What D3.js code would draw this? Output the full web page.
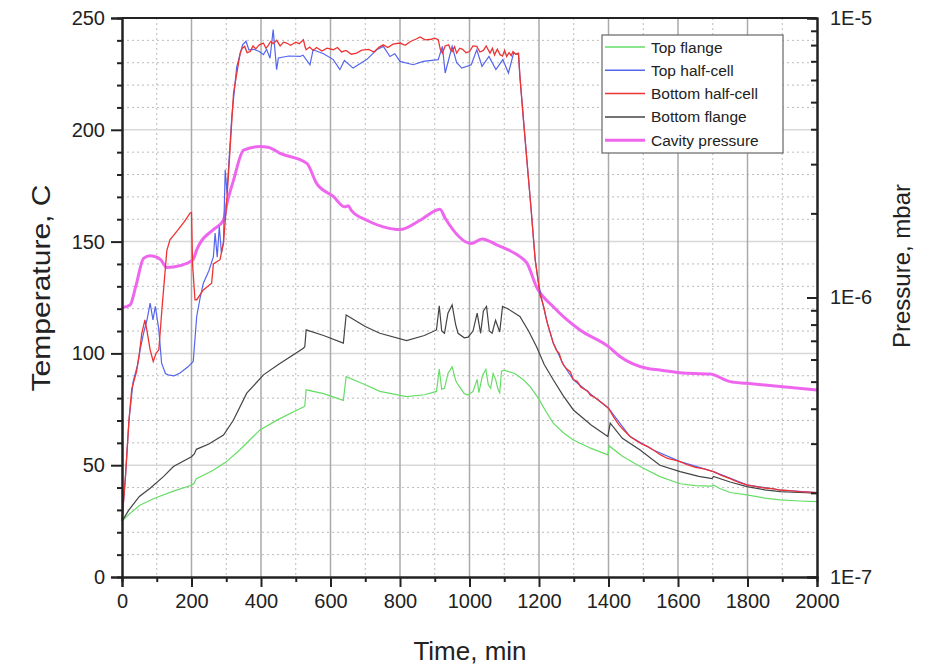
<!DOCTYPE html>
<html>
<head>
<meta charset="utf-8">
<script src="https://cdn.jsdelivr.net/npm/d3@7"></script>
<style>
  body { margin: 0; background: #fff; }
  text { font-family: "Liberation Sans", Arial, sans-serif; fill: #222; }
</style>
</head>
<body>
<div id="chart"></div>
<script>
var svgWidth = 940, svgHeight = 668;

// [time (min), temperature (C)]
var topFlange = [[0,25],[20,28],[50,32],[90,35],[150,38.5],[200,41],[208,42],[214,44],[260,47.5],[300,51.5],[340,57],[397,65.8],[450,70.5],[522,76],[526,76.5],[530,83.7],[580,82],[637,79],[645,89.6],[700,86],[742,83],[819,80.7],[870,81.5],[905,83],[913,93],[920,84],[928,84.4],[938,91],[950,94],[960,88],[967,86],[985,82],[996,81.4],[1010,83],[1022,88.4],[1027,82.4],[1037,90],[1047,92.9],[1054,86],[1061,84.4],[1068,91],[1075,88.4],[1082,84],[1087,82.4],[1092,92],[1100,92.5],[1130,91],[1155,88.2],[1175,85],[1198,80],[1220,74],[1241,68.8],[1270,64.5],[1299,61.3],[1350,57.5],[1398,54.6],[1402,58.6],[1440,54],[1491,49.4],[1548,44.9],[1606,41.7],[1650,40.9],[1698,40.6],[1702,41.2],[1720,39.6],[1750,37.8],[1798,36.7],[1850,35.3],[1894,34.5],[1950,34],[2000,33.7]];

var bottomFlange = [[0,25],[20,30],[50,36],[81,39.7],[120,45],[148,49.4],[200,53.8],[208,55],[214,57.1],[250,59.5],[292,63.5],[320,70],[359,82.2],[407,90.4],[450,95],[522,102.3],[526,103],[530,110.5],[580,108],[637,104.6],[645,117.2],[700,112],[742,109],[819,105.7],[870,108],[905,110.5],[913,121.3],[920,110],[928,109],[938,118],[950,121.7],[960,113],[967,109],[985,107],[996,107.3],[1010,110],[1022,118],[1032,109],[1040,119],[1049,121],[1057,110],[1065,109],[1075,114.8],[1087,109.6],[1095,121],[1110,120],[1145,116.5],[1170,110],[1193,103],[1215,95],[1241,88.2],[1270,81],[1299,74.7],[1350,68],[1398,62.8],[1405,68.8],[1440,62],[1491,56.8],[1548,50],[1606,47.1],[1660,45],[1698,44],[1702,45],[1750,42.5],[1798,40.4],[1850,39],[1894,38.2],[1950,37.8],[2000,37.5]];

var topHalfCell = [[0,25],[10,45],[20,70],[32,87.4],[45,95],[52,101.6],[62,109],[72,115],[81,122.5],[89,115],[96,121],[106,110.5],[114,95.6],[125,91],[133,90.4],[150,90],[167,91.2],[190,94],[205,96.4],[215,116.5],[225,125],[234,131.4],[250,137],[263,143.3],[268,153.8],[274,143],[280,156.8],[286,145],[292,150],[297,182.1],[302,171.8],[316,206],[330,228],[347,238],[357,239.6],[365,235.8],[380,236],[395,235],[407,233.6],[416,236],[426,232],[435,244.8],[445,226.9],[450,232.1],[480,233],[512,232.8],[521,233.4],[541,229.1],[550,235.8],[580,234],[608,231.4],[627,226.9],[640,231],[665,227.6],[704,231.4],[733,235.8],[752,237.3],[771,232.8],[785,234],[800,230.6],[838,229.1],[867,230.6],[910,231.4],[922,237.3],[930,225.4],[950,237.3],[963,230],[978,227.6],[1005,229.1],[1021,235.8],[1036,228.4],[1056,232.8],[1076,226.9],[1096,231.4],[1112,225.4],[1127,234.3],[1141,233.6],[1145,224],[1155,205],[1165,186.6],[1177,165],[1189,141.9],[1198,132],[1208,124],[1225,113],[1241,104.6],[1270,95],[1299,88.2],[1357,80.7],[1400,75.5],[1462,62.8],[1529,56.8],[1606,51.6],[1702,47.1],[1798,41.2],[1894,38.9],[2000,37.7]];

var bottomHalfCell = [[0,25],[10,45],[20,70],[28,84],[42,92],[50,100],[57,109],[66,115],[72,110],[81,101.6],[90,96.4],[98,100],[106,101.6],[115,120],[129,146],[138,150.8],[160,155],[180,159],[196,162.8],[200,163],[203,140],[210,124],[215,124],[234,128.4],[258,131.4],[263,140],[282,141.9],[292,149.3],[300,165],[306,179],[321,216.5],[340,234.3],[346,236.5],[353,237.3],[360,234.5],[369,235],[377,237.5],[385,236.2],[395,238],[407,238.8],[414,236.5],[420,237.5],[428,239.5],[435,238.5],[445,240],[455,237.5],[465,239.2],[474,238.8],[485,237.8],[500,239.2],[510,238.5],[522,240.3],[527,237],[530,235.8],[540,237],[550,235.5],[560,236.8],[575,235.2],[590,236.5],[608,235.8],[620,236.8],[632,234.8],[645,235.5],[660,233.8],[675,234.3],[690,235.6],[710,236],[725,234.8],[740,237],[752,238],[765,236.8],[780,238.3],[800,238.8],[815,237.8],[830,239.5],[845,240.5],[858,241.5],[872,240.2],[890,240.5],[900,241],[910,240.3],[916,236],[922,234.3],[930,237.5],[940,238],[945,236],[950,235],[957,237.2],[963,234.3],[972,236.5],[980,236],[990,234.5],[1000,235],[1010,237.5],[1021,237.3],[1030,234.8],[1040,235.5],[1048,237.5],[1059,234.3],[1066,236.5],[1072,233.5],[1080,236],[1088,233.6],[1095,233],[1101,235.5],[1107,232.8],[1114,234.5],[1120,233.2],[1125,235],[1133,233.8],[1141,234.3],[1145,224],[1155,205],[1165,186.6],[1177,165],[1189,141.9],[1198,132],[1203,126],[1208,124],[1215,120],[1220,116],[1225,113],[1232,109.5],[1241,104.6],[1250,101.5],[1258,100],[1265,96.5],[1270,95],[1280,93],[1290,91.8],[1299,88.2],[1310,87.5],[1320,85],[1330,84],[1340,83.2],[1348,81.2],[1357,80.7],[1368,79.5],[1380,78],[1390,76.8],[1400,75.5],[1415,71.5],[1430,68],[1445,65.5],[1462,62.8],[1478,61.2],[1495,59.5],[1512,58.4],[1529,56.8],[1550,54.6],[1570,53],[1588,52.4],[1606,51.6],[1628,50.1],[1650,49],[1675,48.4],[1702,47.1],[1725,45.4],[1750,44],[1775,42.3],[1798,41.2],[1825,40.4],[1850,39.8],[1872,39.5],[1894,38.9],[1920,38.6],[1950,38.2],[1975,38],[2000,37.7]];

// [time (min), pressure (mbar)]
var cavityPressure = [[0,9.2e-7],[23,9.4e-7],[40,1.1e-6],[62,1.38e-6],[81,1.41e-6],[110,1.37e-6],[129,1.28e-6],[167,1.30e-6],[205,1.37e-6],[215,1.48e-6],[224,1.56e-6],[263,1.75e-6],[292,1.89e-6],[302,2.17e-6],[321,2.63e-6],[350,3.37e-6],[397,3.47e-6],[420,3.45e-6],[455,3.28e-6],[532,3.02e-6],[560,2.56e-6],[608,2.30e-6],[641,2.11e-6],[651,2.13e-6],[660,2.05e-6],[704,1.89e-6],[752,1.79e-6],[800,1.75e-6],[858,1.89e-6],[915,2.07e-6],[930,1.92e-6],[1005,1.56e-6],[1036,1.62e-6],[1080,1.54e-6],[1112,1.48e-6],[1145,1.40e-6],[1165,1.33e-6],[1193,1.09e-6],[1241,9.27e-7],[1318,7.65e-7],[1400,6.67e-7],[1434,6.14e-7],[1510,5.58e-7],[1548,5.5e-7],[1606,5.38e-7],[1693,5.32e-7],[1750,5.0e-7],[1798,4.93e-7],[2000,4.67e-7]];

var seriesNames = ["Top flange","Top half-cell","Bottom half-cell","Bottom flange","Cavity pressure"];
var seriesColors = ["#66dd66","#5566ee","#ee3333","#444444","#ee66ee"];

var timeTicks = [0,200,400,600,800,1000,1200,1400,1600,1800,2000];
var tempTicks = [0,50,100,150,200,250];
var pressTicks = [1e-7,1e-6,1e-5];

var plotLeft = 122, plotRight = 817, plotTop = 18, plotBottom = 577;

var svg = d3.select("#chart").append("svg")
  .attr("width", svgWidth)
  .attr("height", svgHeight);

var x = d3.scaleLinear().domain([0,2000]).range([plotLeft,plotRight]);
var y = d3.scaleLinear().domain([0,250]).range([plotBottom,plotTop]);
var yp = d3.scaleLog().domain([1e-7,1e-5]).range([plotBottom,plotTop]);

// grid
var grid = svg.append("g");
grid.selectAll(".vminor").data(d3.range(100,2000,200)).enter().append("line")
  .attr("x1",d=>x(d)).attr("x2",d=>x(d)).attr("y1",plotTop).attr("y2",plotBottom)
  .attr("stroke","#bbb").attr("stroke-dasharray","2,3");
grid.selectAll(".hminor").data(d3.range(10,250,10).filter(d=>d%50!=0)).enter().append("line")
  .attr("x1",plotLeft).attr("x2",plotRight).attr("y1",d=>y(d)).attr("y2",d=>y(d))
  .attr("stroke","#bbb").attr("stroke-dasharray","2,3");
grid.selectAll(".hmajor").data(tempTicks.slice(1,5)).enter().append("line")
  .attr("x1",plotLeft).attr("x2",plotRight).attr("y1",d=>y(d)).attr("y2",d=>y(d))
  .attr("stroke","#d8d8d8").attr("stroke-width",1.5);
grid.selectAll(".vmajor").data(timeTicks.slice(1,10)).enter().append("line")
  .attr("x1",d=>x(d)).attr("x2",d=>x(d)).attr("y1",plotTop).attr("y2",plotBottom)
  .attr("stroke","#aaa").attr("stroke-width",1.5);

// lines
var tline = d3.line().x(d=>x(d[0])).y(d=>y(d[1]));
var pline = d3.line().x(d=>x(d[0])).y(d=>yp(d[1]));

svg.append("path").datum(topFlange).attr("d",tline)
  .attr("fill","none").attr("stroke",seriesColors[0]).attr("stroke-width",1.2);
svg.append("path").datum(bottomFlange).attr("d",tline)
  .attr("fill","none").attr("stroke",seriesColors[3]).attr("stroke-width",1.2);
svg.append("path").datum(cavityPressure).attr("d",pline.curve(d3.curveMonotoneX))
  .attr("fill","none").attr("stroke",seriesColors[4]).attr("stroke-width",3);
svg.append("path").datum(topHalfCell).attr("d",tline)
  .attr("fill","none").attr("stroke",seriesColors[1]).attr("stroke-width",1.2);
svg.append("path").datum(bottomHalfCell).attr("d",tline)
  .attr("fill","none").attr("stroke",seriesColors[2]).attr("stroke-width",1.3);

// axes
var axLeft = svg.append("g").attr("transform","translate("+plotLeft+",0)")
  .call(d3.axisLeft(y).tickValues(tempTicks).tickSize(11).tickPadding(6));
var axLeftMinor = svg.append("g").attr("transform","translate("+plotLeft+",0)")
  .call(d3.axisLeft(y).tickValues(d3.range(10,250,10).filter(d=>d%50!=0)).tickSize(5).tickFormat(""));
var axBottom = svg.append("g").attr("transform","translate(0,"+plotBottom+")")
  .call(d3.axisBottom(x).tickValues(timeTicks).tickSize(10).tickPadding(7).tickFormat(d3.format("d")));
var axBottomMinor = svg.append("g").attr("transform","translate(0,"+plotBottom+")")
  .call(d3.axisBottom(x).tickValues(d3.range(100,2000,200)).tickSize(5).tickFormat(""));

var minorP = [];
[1e-7,1e-6].forEach(function(b){ for (var k=2;k<10;k++) minorP.push(b*k); });
var axRight = svg.append("g").attr("transform","translate("+plotRight+",0)")
  .call(d3.axisRight(yp).tickValues(pressTicks).tickSize(-10).tickPadding(13)
    .tickFormat(d=>"1E" + Math.round(Math.log10(d))));
var axRightMinor = svg.append("g").attr("transform","translate("+plotRight+",0)")
  .call(d3.axisRight(yp).tickValues(minorP).tickSize(-6).tickFormat(""));

[axLeft,axLeftMinor,axBottom,axBottomMinor,axRight,axRightMinor].forEach(function(a){
  a.select(".domain").attr("stroke","#222").attr("stroke-width",2);
  a.selectAll(".tick line").attr("stroke","#222").attr("stroke-width",2);
  a.selectAll(".tick text").style("font-size","20px").style("font-family","Liberation Sans, Arial, sans-serif").attr("fill","#222");
});

svg.append("line").attr("x1",plotLeft).attr("x2",plotRight).attr("y1",plotTop).attr("y2",plotTop)
  .attr("stroke","#222").attr("stroke-width",2);

// axis titles
svg.append("text").attr("transform","translate(50,288) rotate(-90)")
  .attr("text-anchor","middle").style("font-size","26px")
  .attr("textLength",207).attr("lengthAdjust","spacingAndGlyphs")
  .text("Temperature, C");
svg.append("text").attr("transform","translate(910,266) rotate(-90)")
  .attr("text-anchor","middle").style("font-size","24px")
  .text("Pressure, mbar");
svg.append("text").attr("x",470).attr("y",660)
  .attr("text-anchor","middle").style("font-size","26px")
  .text("Time, min");

// legend
var legend = svg.append("g");
legend.append("rect").attr("x",602).attr("y",35).attr("width",181).attr("height",118)
  .attr("fill","#fff").attr("stroke","#666").attr("stroke-width",1.2);
var items = legend.selectAll(".item").data(seriesNames).enter().append("g")
  .attr("transform",(d,i)=>"translate(0,"+(47+i*23.3)+")");
items.append("line").attr("x1",605).attr("x2",645).attr("y1",0).attr("y2",0)
  .attr("stroke",(d,i)=>seriesColors[i]).attr("stroke-width",(d,i)=>i==4?3:1.5);
items.append("text").attr("x",651).attr("y",5.5).style("font-size","15.5px").text(d=>d);
</script>
</body>
</html>
